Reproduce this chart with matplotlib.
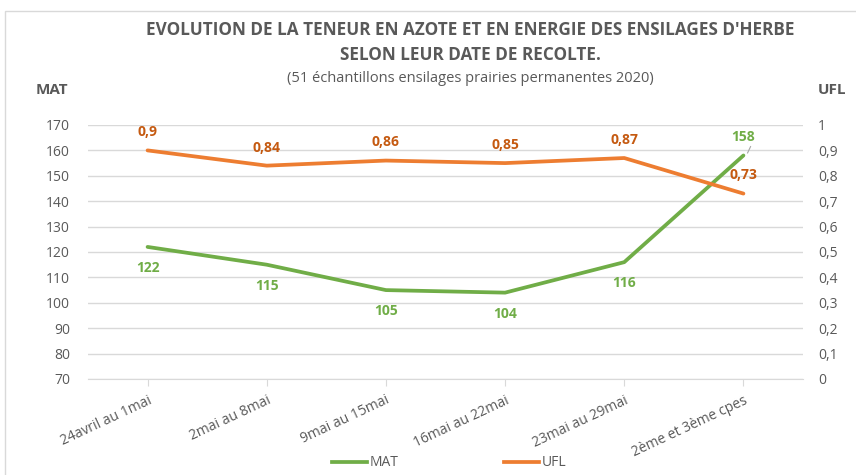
import matplotlib.pyplot as plt
from matplotlib.patches import Rectangle
from matplotlib.lines import Line2D

plt.rcParams['font.family'] = ['Open Sans', 'DejaVu Sans']

# data
periodes = ["24avril au 1mai", "2mai au 8mai", "9mai au 15mai",
            "16mai au 22mai", "23mai au 29mai", "2ème et 3ème cpes"]
mat = [122, 115, 105, 104, 116, 158]
ufl = [0.9, 0.84, 0.86, 0.85, 0.87, 0.73]
ufl_labels = ["0,9", "0,84", "0,86", "0,85", "0,87", "0,73"]

green = '#70AD47'
orange = '#ED7D31'
dark_orange = '#C55A11'
grey_txt = '#595959'

fig = plt.figure(figsize=(8.56, 4.75), dpi=100)
W, H = 856, 475

# plot area in pixel coordinates
left, right, top, bottom = 88, 803, 125, 379
ax = fig.add_axes([left / W, 1 - bottom / H, (right - left) / W, (bottom - top) / H])
ax2 = ax.twinx()

x = range(len(periodes))
ax.plot(x, mat, color=green, lw=2.7, solid_capstyle='round', zorder=3)
ax2.plot(x, ufl, color=orange, lw=2.7, solid_capstyle='round', zorder=3)

ax.set_xlim(-0.5, len(periodes) - 0.5)
ax.set_ylim(70, 170)
ax2.set_ylim(0, 1)
ax.set_yticks(range(70, 171, 10))
ax2.set_yticks([i / 10 for i in range(11)])
ax2.set_yticklabels(['0'] + ['0,%d' % i for i in range(1, 10)] + ['1'])

ax.grid(axis='y', color='#D9D9D9', lw=1)
ax.set_axisbelow(True)
for a in (ax, ax2):
    for s in a.spines.values():
        s.set_visible(False)
    a.tick_params(axis='y', length=0, colors=grey_txt, labelsize=10)
ax.spines['bottom'].set_visible(True)
ax.spines['bottom'].set_color('#D9D9D9')
ax.tick_params(axis='y', pad=13)
ax2.tick_params(axis='y', pad=11)
ax.set_xticks(list(x))
ax.set_xticklabels(periodes, rotation=25, ha='right', rotation_mode='anchor',
                   fontsize=10, color=grey_txt)
ax.tick_params(axis='x', length=5, color='#D9D9D9', pad=5)

# data labels
n = len(mat)
for i, v in enumerate(mat):
    if i == n - 1:
        ax.annotate(str(v), (i, v), xytext=(0, 8), textcoords='offset points',
                    ha='center', va='bottom', color=green, fontsize=10, fontweight='bold')
        ax.plot([i + 0.035, i + 0.06], [v + 1, v + 3.5], color='#A6A6A6', lw=0.8, zorder=4)
    else:
        ax.annotate(str(v), (i, v), xytext=(0, -10), textcoords='offset points',
                    ha='center', va='top', color=green, fontsize=10, fontweight='bold')
for i, v in enumerate(ufl):
    ax2.annotate(ufl_labels[i], (i, v), xytext=(0, 8), textcoords='offset points',
                 ha='center', va='bottom', color=dark_orange, fontsize=10, fontweight='bold')

# titles
fig.text(470 / W, 1 - 30 / H, "EVOLUTION DE LA TENEUR EN AZOTE ET EN ENERGIE DES ENSILAGES D'HERBE",
         ha='center', va='center', fontsize=12.3, fontweight='bold', color=grey_txt)
fig.text(470 / W, 1 - 55 / H, "SELON LEUR DATE DE RECOLTE.",
         ha='center', va='center', fontsize=12.3, fontweight='bold', color=grey_txt)
fig.text(470 / W, 1 - 79 / H, "(51 échantillons ensilages prairies permanentes 2020)",
         ha='center', va='center', fontsize=10.5, color=grey_txt)
fig.text(52 / W, 1 - 90 / H, "MAT", ha='center', va='center', fontsize=11,
         fontweight='bold', color=grey_txt)
fig.text(832 / W, 1 - 90 / H, "UFL", ha='center', va='center', fontsize=11,
         fontweight='bold', color=grey_txt)

# legend
handles = [Line2D([], [], color=green, lw=2.7), Line2D([], [], color=orange, lw=2.7)]
fig.legend(handles, ['MAT', 'UFL'], loc='center', bbox_to_anchor=(449 / W, 1 - 463 / H),
           ncol=2, frameon=False, fontsize=10, handlelength=2.5, handletextpad=0.2,
           columnspacing=7.6, labelcolor=grey_txt)

# chart border
fig.patches.append(Rectangle((5 / W, -0.1), 1.0, 1 - 11 / H + 0.1,
                             transform=fig.transFigure, fill=False,
                             edgecolor='#D9D9D9', lw=1))

plt.savefig('out.png', dpi=100)
